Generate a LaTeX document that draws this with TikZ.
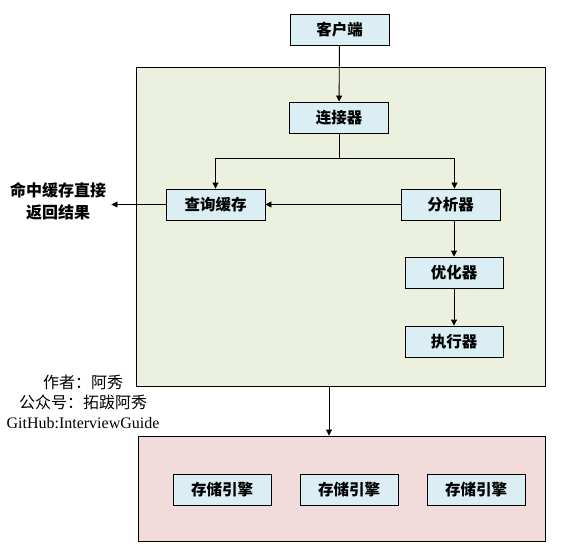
\documentclass[tikz,border=0pt]{standalone}
\usepackage{fontspec}
\setmainfont{Liberation Serif}
\newfontfamily\cjk{Noto Sans CJK SC}
\usepackage{xcolor}
\definecolor{boxblue}{HTML}{DAEEF3}
\definecolor{srvgreen}{HTML}{EBF1DE}
\definecolor{engpink}{HTML}{F2DCDB}
\usetikzlibrary{arrows.meta,positioning,calc}

\begin{document}
\begin{tikzpicture}[x=1pt, y=-1pt, line width=0.9pt,
  every node/.style={font=\fontsize{16}{20}\selectfont\cjk},
  unit/.style={draw, fill=boxblue, minimum width=99pt, minimum height=31pt, inner sep=0pt, font=\fontsize{15.5}{18}\selectfont\cjk\bfseries},
  arr/.style={-{Triangle[width=6pt,length=6pt]}}]
\useasboundingbox (0,0) rectangle (561,559);
% containers
\node[draw, fill=srvgreen, minimum width=409pt, minimum height=319pt, inner sep=0pt] (server) at (340.5,226.5) {};
\node[draw, fill=engpink, minimum width=407pt, minimum height=105pt, inner sep=0pt] (engines) at (341.5,488.5) {};
% units
\node[unit] (client) at (339.5,30) {客户端};
\node[unit] (conn) at (339,117.5) {连接器};
\node[unit] (cache) at (215.5,204.5) {查询缓存};
\node[unit] (parser) at (450.5,204.5) {分析器};
\node[unit, minimum width=98pt] (optim) at (454,272.5) {优化器};
\node[unit, minimum width=98pt] (exec) at (454,341.5) {执行器};
\node[unit, minimum width=98pt] (eng1) at (222,489.5) {存储引擎};
\node[unit, minimum width=98pt] (eng2) at (349,489.5) {存储引擎};
\node[unit, minimum width=98pt] (eng3) at (476,489.5) {存储引擎};
% labels
\node[font=\fontsize{16}{22}\selectfont\cjk\bfseries, align=center, inner sep=5pt] (hit) at (58,201) {命中缓存直接\\返回结果};
\node[align=center, inner sep=0pt] (author) at (83,402) {作者：阿秀\\公众号：拓跋阿秀\\{\rmfamily GitHub:InterviewGuide}};
% connectors
\coordinate (split) at (339,158);
\draw[arr] (client) -- (conn);
\draw (conn.south) -- (split);
\draw[arr] (split) -| (cache.north);
\draw[arr] (split) -| ([xshift=4pt]parser.north);
\draw[arr] (parser) -- (cache);
\draw[arr] (cache.west) -- (cache.west -| hit.east);
\draw[arr] ([xshift=3.5pt]parser.south) -- (optim);
\draw[arr] (optim) -- (exec);
\draw[arr] ([xshift=-11.5pt]server.south) -- ([xshift=-11.5pt]server.south |- engines.north);
\end{tikzpicture}
\end{document}
